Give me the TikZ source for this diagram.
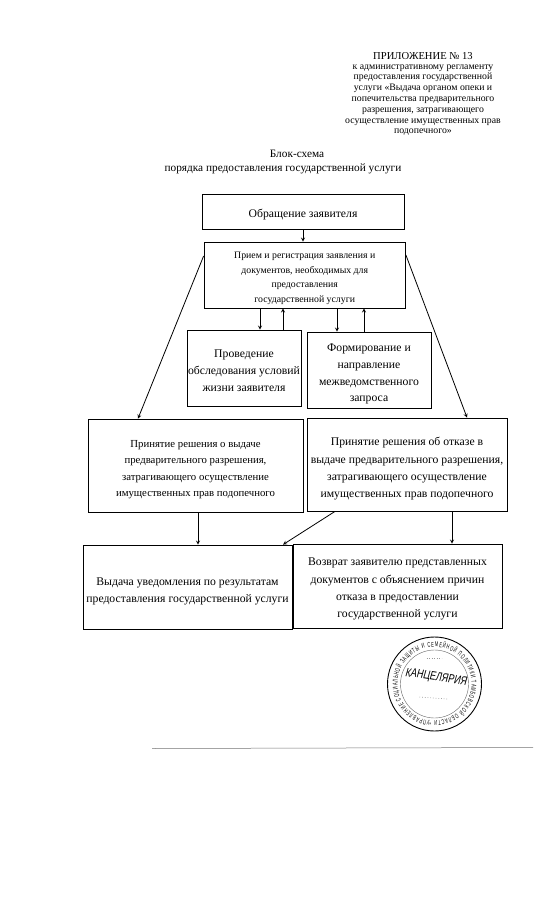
\documentclass[tikz,border=0pt]{standalone}
\usepackage{fontspec}
\setmainfont{Liberation Serif}
\newfontfamily\stampfont[FakeStretch=0.56]{Liberation Sans}
\newfontfamily\officefont[FakeStretch=0.74,FakeSlant=0.12]{Liberation Sans}
\usetikzlibrary{arrows,calc,decorations.text}
\newcommand{\dropby}[1]{\rule{0pt}{#1}}

\begin{document}
\begin{tikzpicture}[
    x=1pt, y=-1pt,
    stepbox/.style={rectangle, draw=black, line width=0.8pt, inner sep=0pt, align=center},
    small/.style={font=\fontsize{9.8}{14.7}\selectfont},
    usual/.style={font=\fontsize{11.7}{17.4}\selectfont},
    usualtight/.style={font=\fontsize{10.75}{16.2}\selectfont},
    arrow/.style={->, >=stealth, line width=0.8pt}
]
\useasboundingbox (0,0) rectangle (549,905);

% Header
\node[font=\fontsize{10.6}{11}\selectfont] (annex) at (423,56) {ПРИЛОЖЕНИЕ № 13};
\node[font=\fontsize{9.8}{10.8}\selectfont, align=center, anchor=north] (annextext) at (423,61) {к административному регламенту\\
предоставления государственной\\
услуги «Выдача органом опеки и\\
попечительства предварительного\\
разрешения, затрагивающего\\
осуществление имущественных прав\\
подопечного»};

% Title
\node[font=\fontsize{11.3}{15}\selectfont] (title) at (297,154) {Блок-схема};
\node[font=\fontsize{11.3}{15}\selectfont] (subtitle) at (283,169) {порядка предоставления государственной услуги};

% Boxes
\node[stepbox, usual, minimum width=202, minimum height=35] (appeal) at (303,211.5) {\dropby{14.5pt}Обращение заявителя};
\node[stepbox, small, minimum width=201.5, minimum height=66] (reception) at (304.75,275) {\dropby{13pt}Прием и регистрация заявления и\\
документов, необходимых для\\
предоставления\\
государственной услуги};
\node[stepbox, usual, minimum width=114, minimum height=76] (survey) at (244,368) {\dropby{13pt}Проведение\\
обследования условий\\
жизни заявителя};
\node[stepbox, font=\fontsize{11.7}{16.8}\selectfont, minimum width=124, minimum height=76] (request) at (369,370) {\dropby{16pt}Формирование и\\
направление\\
межведомственного\\
запроса};
\node[stepbox, usualtight, minimum width=215, minimum height=93] (grant) at (195.5,465.5) {\dropby{15.5pt}Принятие решения о выдаче\\
предварительного разрешения,\\
затрагивающего осуществление\\
имущественных прав подопечного};
\node[stepbox, usual, minimum width=200, minimum height=93] (refusal) at (407,464.5) {\dropby{17pt}Принятие решения об отказе в\\
выдаче предварительного разрешения,\\
затрагивающего осуществление\\
имущественных прав подопечного};
\node[stepbox, usual, minimum width=209, minimum height=84] (notice) at (187.5,587) {\dropby{17pt}Выдача уведомления по результатам\\
предоставления государственной услуги};
\node[stepbox, usual, minimum width=209, minimum height=84] (returned) at (397.5,586) {\dropby{14pt}Возврат заявителю представленных\\
документов с объяснением причин\\
отказа в предоставлении\\
государственной услуги};

% Connectors
\draw[arrow] (appeal.south -| 303,0) -- (reception.north -| 303,0);
\draw[arrow] (reception.south -| 260,0) -- (survey.north -| 260,0);
\draw[arrow] (survey.north -| 283,0) -- (reception.south -| 283,0);
\draw[arrow] (reception.south -| 337,0) -- (request.north -| 337,0);
\draw[arrow] (request.north -| 364,0) -- (reception.south -| 364,0);
\draw[arrow] (reception.west |- 0,256) -- (grant.north -| 138,0);
\draw[arrow] (reception.east |- 0,255) -- (refusal.north -| 467,0);
\draw[arrow] (grant.south -| 198,0) -- (notice.north -| 198,0);
\draw[arrow] (refusal.south -| 335,0) -- (notice.north -| 283,0);
\draw[arrow] (refusal.south -| 452,0) -- (returned.north -| 452,0);

% Stamp
\node[circle, draw=black, line width=0.9pt, minimum size=94, inner sep=0pt] (stamp) at (434.5,684) {};
\node[circle, draw=black!60, line width=0.4pt, minimum size=68, inner sep=0pt] (stampinner) at (434.5,684) {};
\path[decorate, decoration={text along path, text align=fit to path,
    text={|\fontsize{7}{8}\stampfont|УПРАВЛЕНИЕ СОЦИАЛЬНОЙ ЗАЩИТЫ И СЕМЕЙНОЙ ПОЛИТИКИ ТАМБОВСКОЙ ОБЛАСТИ * }}]
    ($(stamp.center)+(97:37)$) arc (97:457:37);
\node[inner sep=0pt, rotate=-9, font=\fontsize{12.2}{13}\officefont] (office) at (436,678) {КАНЦЕЛЯРИЯ};
\draw[black!40, line width=0.5pt, dotted] ($(stamp.center)+(-8,-26)$) -- ($(stamp.center)+(7,-26)$);
\draw[black!40, line width=0.7pt, dotted] ($(stamp.center)+(-15,13)$) -- ($(stamp.center)+(13,15)$);

% Fold line of the scan
\coordinate (foldleft) at (152,748.5);
\coordinate (foldright) at (533,747.5);
\draw[black!55, line width=0.5pt] (foldleft) -- (foldright);

\end{tikzpicture}
\end{document}
